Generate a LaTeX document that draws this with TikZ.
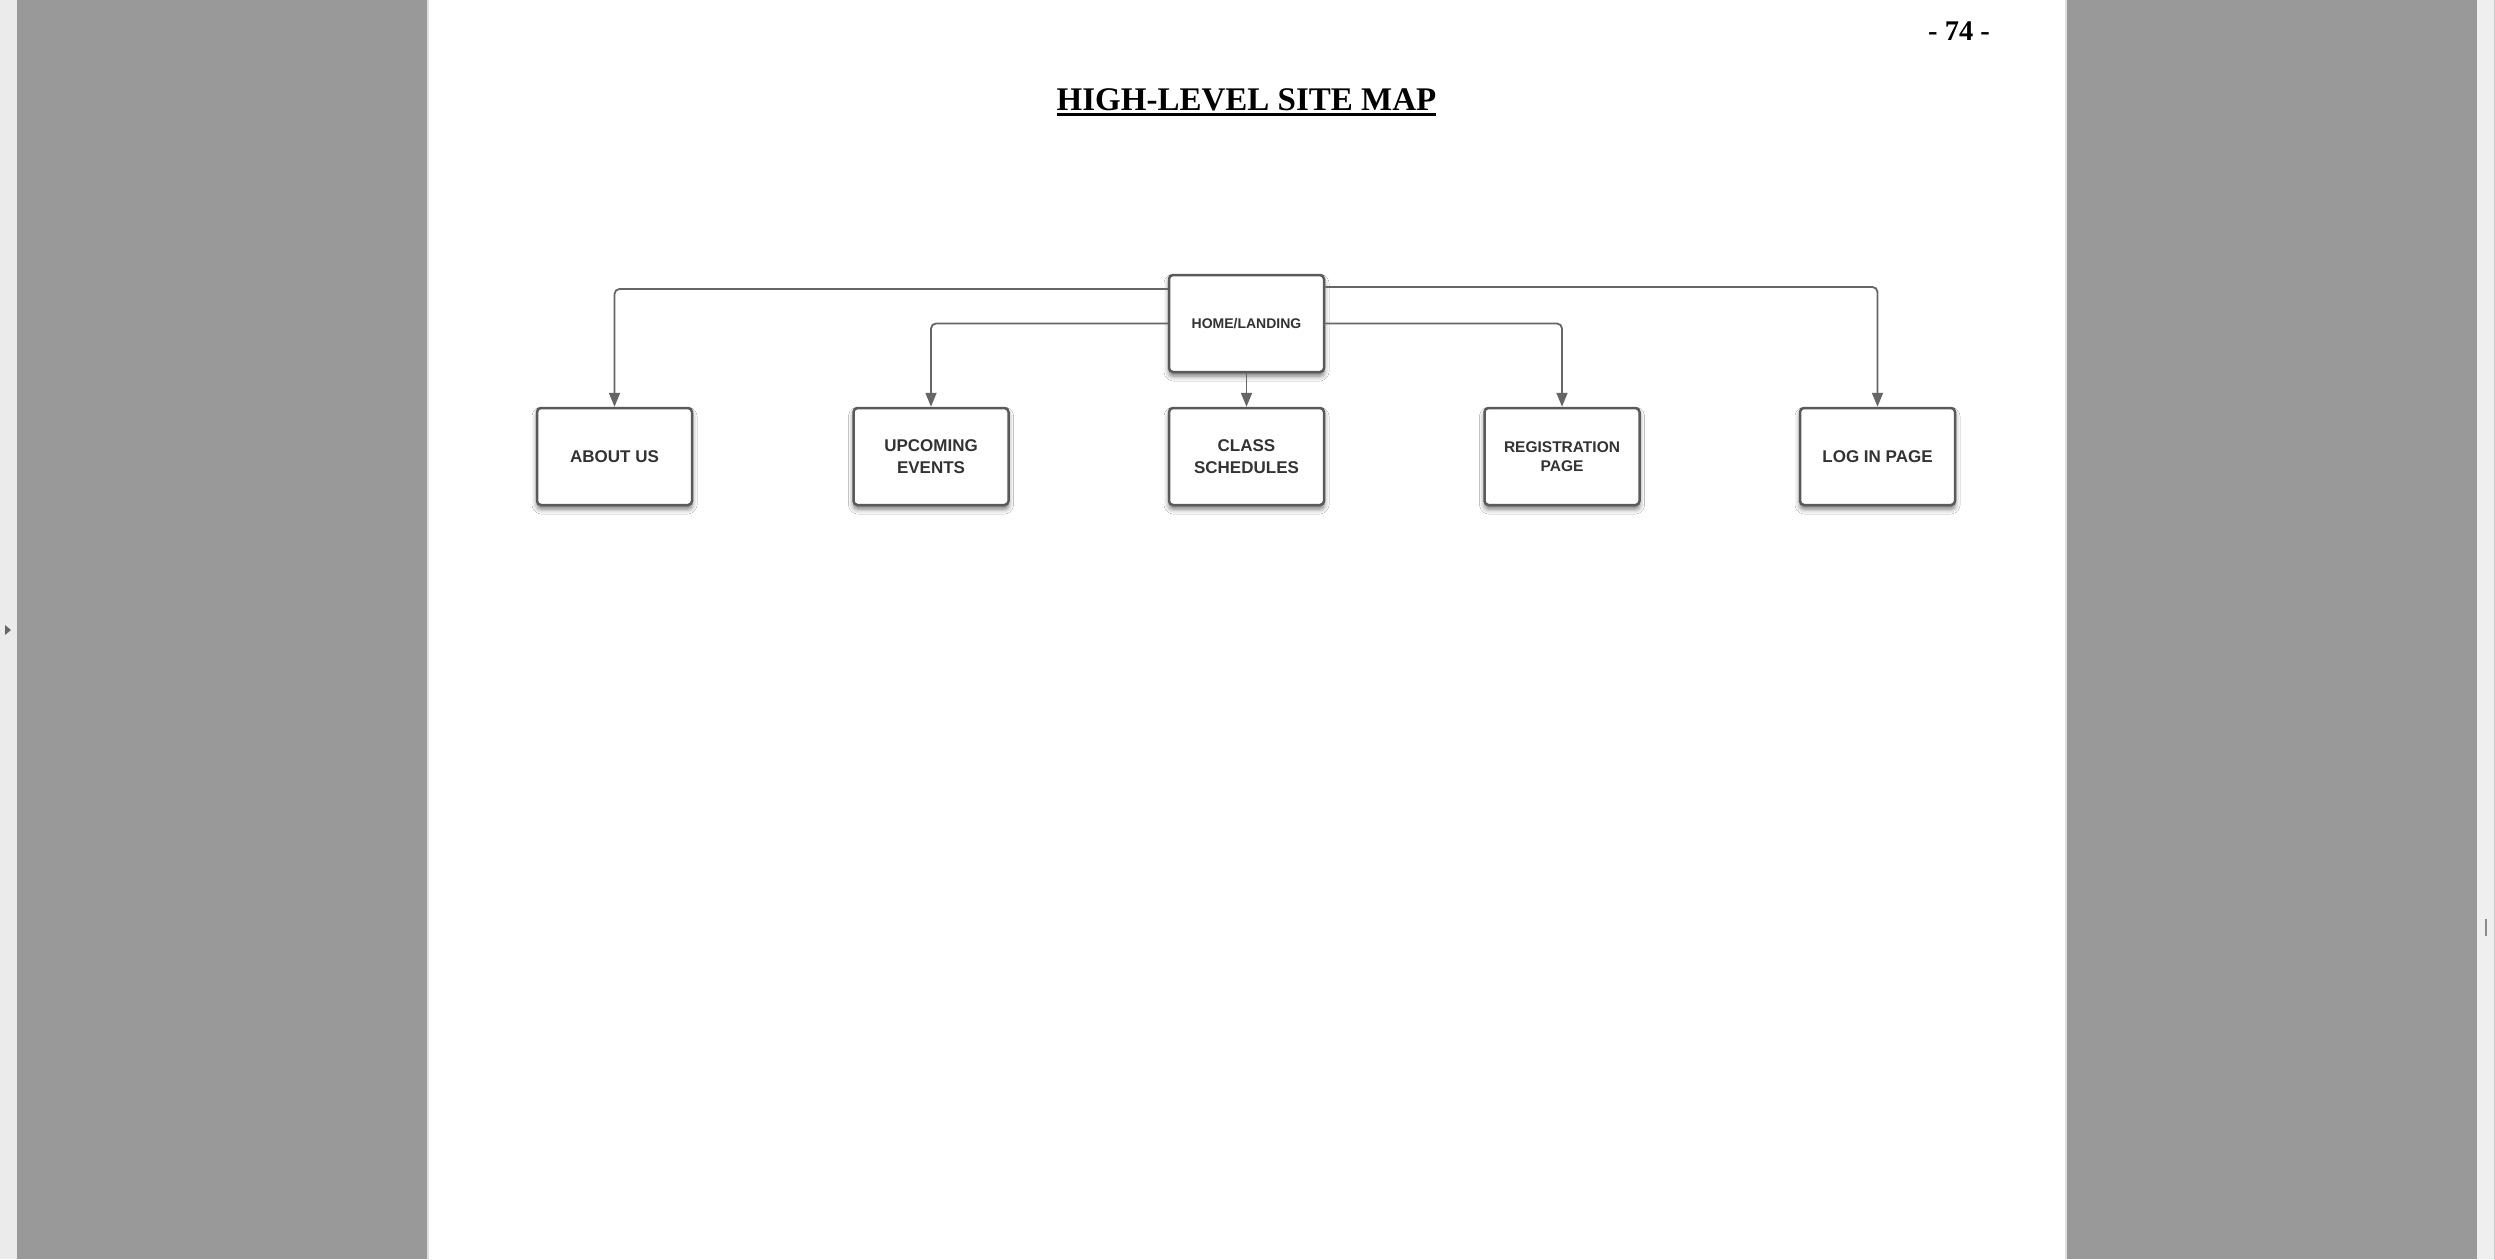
\documentclass[tikz,border=0pt]{standalone}
\usepackage{fontspec}
\setmainfont{Liberation Serif}
\newfontfamily\boxfont{Liberation Sans}
\usetikzlibrary{shadows.blur,arrows.meta}
\definecolor{pagegray}{HTML}{999999}
\definecolor{stripgray}{HTML}{EBEBEB}
\definecolor{stripgrayr}{HTML}{EFEFEF}
\definecolor{boxline}{HTML}{5A5A5A}
\definecolor{connline}{HTML}{666666}
\definecolor{boxtext}{HTML}{333333}
\begin{document}
\begin{tikzpicture}[x=1pt,y=-1pt,
  pagebox/.style={draw=boxline, line width=2.5pt, rounded corners=4pt, fill=white,
    minimum width=155pt, minimum height=97pt, inner sep=0pt, align=center,
    font=\boxfont\bfseries\fontsize{17}{21}\selectfont, text=boxtext,
    blur shadow={shadow xshift=0pt, shadow yshift=-4pt, shadow blur radius=5pt, shadow opacity=55}},
  conn/.style={draw=connline, line width=1.8pt, rounded corners=5pt,
    -{Triangle[length=14pt,width=11pt]}}]
\useasboundingbox (0,0) rectangle (2495,1259);
% background
\fill[stripgray] (0,0) rectangle (2495,1259);
\fill[pagegray] (17,0) rectangle (427,1259);
\fill[white!70!pagegray] (427,0) rectangle (428.5,1259);
\fill[white] (428.5,0) rectangle (2065,1259);
\fill[white!70!pagegray] (2065,0) rectangle (2066.5,1259);
\fill[pagegray] (2066.5,0) rectangle (2477,1259);
\fill[stripgrayr] (2477,0) rectangle (2493.5,1259);
\fill[black!22] (2493.5,0) rectangle (2495,1259);
\fill[connline] (5,625) -- (11,630) -- (5,635) -- cycle;
\fill[black!45] (2485,919) rectangle (2487,936);
% page number and title
\node[anchor=base, inner sep=0pt, font=\bfseries\fontsize{28.5}{32}\selectfont] (pnum) at (1959,40) {- 74 -};
\node[anchor=base, inner sep=0pt, font=\bfseries\fontsize{33}{38}\selectfont] (title) at (1246.5,110) {HIGH-LEVEL SITE MAP};
\draw[line width=3pt] ([yshift=-4.5pt]title.base west) -- ([yshift=-4.5pt]title.base east);
% boxes
\node[pagebox, font=\boxfont\bfseries\fontsize{14}{17}\selectfont] (home) at (1246.5,323.5) {HOME/LANDING};
\node[pagebox] (about) at (614.5,456.5) {ABOUT US};
\node[pagebox, font=\boxfont\bfseries\fontsize{17}{22}\selectfont] (upc) at (931,456.5) {UPCOMING\\EVENTS};
\node[pagebox, font=\boxfont\bfseries\fontsize{17}{22}\selectfont] (cls) at (1246.5,456.5) {CLASS\\SCHEDULES};
\node[pagebox, font=\boxfont\bfseries\fontsize{15.5}{19}\selectfont] (reg) at (1562,456.5) {REGISTRATION\\PAGE};
\node[pagebox] (login) at (1877.5,456.5) {LOG IN PAGE};
% connectors
\draw[conn] ([yshift=34.5pt]home.west) -| (about.north);
\draw[conn] (home.west) -| (upc.north);
\draw[conn] (home.south) -- (cls.north);
\draw[conn] (home.east) -| (reg.north);
\draw[conn] ([yshift=36.5pt]home.east) -| (login.north);
\end{tikzpicture}
\end{document}
